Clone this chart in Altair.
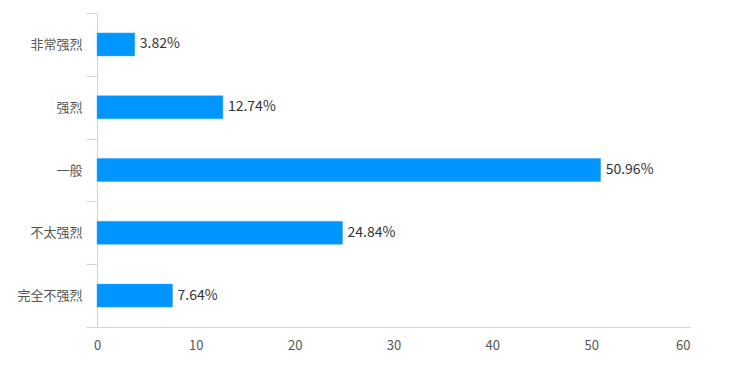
import altair as alt
import pandas as pd

categories = ["非常强烈", "强烈", "一般", "不太强烈", "完全不强烈"]
values = [3.82, 12.74, 50.96, 24.84, 7.64]
labels = ["3.82%", "12.74%", "50.96%", "24.84%", "7.64%"]
x_ticks = [0, 10, 20, 30, 40, 50, 60]

df = pd.DataFrame({"cat": categories, "val": values, "label": labels})

FONT = "Noto Sans CJK SC"

y_enc = alt.Y(
    "cat:N",
    sort=categories,
    title=None,
    scale=alt.Scale(paddingInner=0, paddingOuter=0),
    axis=alt.Axis(
        domainColor="#ccd6e4",
        tickColor="#ccd6e4",
        tickSize=11,
        tickBand="extent",
        labelPadding=4,
        labelColor="#555555",
        labelFontSize=13,
        labelFont=FONT,
    ),
)

x_enc = alt.X(
    "val:Q",
    title=None,
    scale=alt.Scale(domain=[0, 60], nice=False),
    axis=alt.Axis(
        values=x_ticks,
        grid=False,
        ticks=False,
        domainColor="#ccd6e4",
        labelPadding=12,
        labelColor="#555555",
        labelFontSize=13,
        labelFont=FONT,
        labelFlush=False,
        labelAlign=alt.expr("datum.value == 60 ? 'right' : 'center'"),
    ),
)

bars = alt.Chart(df).mark_bar(
    color="#0095ff", stroke="#3aa8ff", strokeWidth=0.5, height=23
).encode(x=x_enc, y=y_enc)
text = alt.Chart(df).mark_text(
    align="left", baseline="middle", dx=5, fontSize=14, font=FONT, color="#333333"
).encode(x="val:Q", y=alt.Y("cat:N", sort=categories), text="label:N")

chart = (
    alt.layer(bars, text)
    .properties(
        width=593,
        height=314,
        autosize=alt.AutoSizeParams(type="none"),
        padding={"left": 97, "top": 13, "right": 41, "bottom": 41},
        background="white",
    )
    .configure_view(stroke=None)
)

chart.save("out.html", embed_options={"renderer": "svg", "actions": False})
